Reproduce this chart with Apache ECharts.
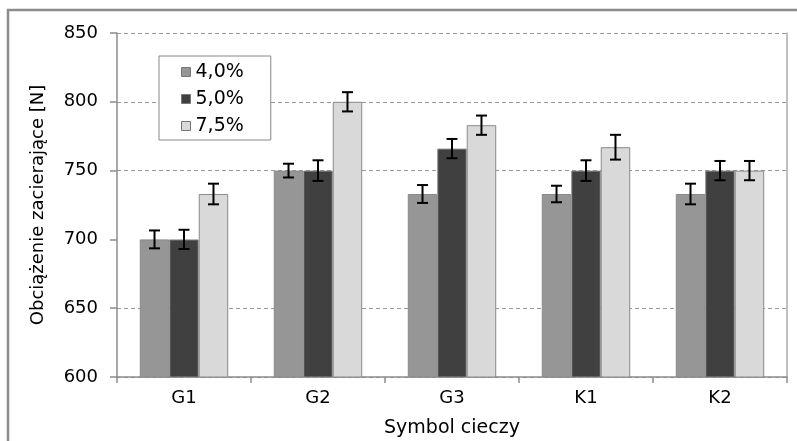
<!DOCTYPE html>
<html>
<head>
<meta charset="utf-8">
<script src="https://cdn.jsdelivr.net/npm/echarts@6/dist/echarts.min.js"></script>
<style>html,body{margin:0;padding:0;background:#fff}#c{width:797px;height:441px}</style>
</head>
<body>
<div id="c"></div>
<script>
const categories = ['G1', 'G2', 'G3', 'K1', 'K2'];
const seriesNames = ['4,0%', '5,0%', '7,5%'];
const values40 = [700, 750, 733, 733, 733];
const values50 = [700, 750, 766, 750, 750];
const values75 = [733, 800, 783, 767, 750];
const err40 = [6.5, 5, 6.5, 6, 7.5];
const err50 = [7, 7.5, 7, 7.5, 7];
const err75 = [7.5, 7, 7, 9, 7];
const yTicks = [600, 650, 700, 750, 800, 850];
const xTitle = 'Symbol cieczy';
const yTitle = 'Obciążenie zacierające [N]';

const colors = ['#969696', '#404040', '#d9d9d9'];
const valueSets = [values40, values50, values75];
const errSets = [err40, err50, err75];
const FONT = 'DejaVu Sans';

const errData = [];
valueSets.forEach((vals, s) => {
  vals.forEach((v, i) => errData.push([i, v, errSets[s][i], s]));
});

const chart = echarts.init(document.getElementById('c'), null, {renderer: 'canvas'});
const option = {
  animation: false,
  backgroundColor: '#fff',
  textStyle: {fontFamily: FONT, color: '#000'},
  graphic: [{
    type: 'rect', silent: true, z: -1,
    shape: {x: 8, y: 10, width: 830, height: 470},
    style: {fill: 'none', stroke: '#8c8c8c', lineWidth: 2.5}
  }],
  grid: {left: 117, right: 10, top: 33, bottom: 64, outerBoundsMode: 'none', containLabel: false},
  legend: {
    orient: 'vertical', left: 159, top: 56,
    padding: [6, 27, 4, 22],
    itemGap: 7,
    itemWidth: 9, itemHeight: 9,
    icon: 'rect',
    borderColor: '#888', borderWidth: 1, backgroundColor: '#fff',
    textStyle: {fontFamily: FONT, fontSize: 19, color: '#000', lineHeight: 20},
    itemStyle: {borderColor: '#777', borderWidth: 1},
    data: seriesNames
  },
  xAxis: {
    type: 'category', data: categories,
    name: xTitle, nameLocation: 'middle', nameGap: 42,
    nameTextStyle: {fontFamily: FONT, fontSize: 19, color: '#000'},
    axisLine: {lineStyle: {color: '#8c8c8c', width: 1.5}},
    axisTick: {show: true, length: 6, lineStyle: {color: '#8c8c8c', width: 1.5}},
    axisLabel: {fontFamily: FONT, fontSize: 18, color: '#000', margin: 12}
  },
  yAxis: [{
    type: 'value', min: yTicks[0], max: yTicks[yTicks.length - 1], interval: 50,
    name: yTitle, nameLocation: 'middle', nameGap: 70,
    nameTextStyle: {fontFamily: FONT, fontSize: 18, color: '#000'},
    axisLine: {show: true, lineStyle: {color: '#8c8c8c', width: 1.5}},
    axisTick: {show: true, length: 7, lineStyle: {color: '#8c8c8c', width: 1.5}},
    axisLabel: {fontFamily: FONT, fontSize: 18, color: '#000', margin: 19},
    splitLine: {show: true, lineStyle: {type: [4, 3], width: 1,
      color: ['#999', '#999', 'rgba(0,0,0,0)', '#999', '#999', '#999']}}
  }, {
    type: 'value', position: 'right', min: yTicks[0], max: yTicks[yTicks.length - 1], interval: 50,
    axisLine: {show: true, lineStyle: {color: '#aaa', width: 1.5}},
    axisTick: {show: false}, axisLabel: {show: false}, splitLine: {show: false}
  }],
  series: [
    ...valueSets.map((vals, s) => ({
      name: seriesNames[s], type: 'bar', data: vals,
      barGap: '0%', barCategoryGap: '34%',
      itemStyle: {color: colors[s], borderColor: '#8a8a8a', borderWidth: 1}
    })),
    {
      type: 'custom', name: 'err', data: errData, z: 10,
      encode: {x: 0, y: 1},
      renderItem: function (params, api) {
        const cat = api.value(0), v = api.value(1), e = api.value(2), s = api.value(3);
        const catW = api.size([1, 0])[0];
        const bw = catW * 0.22;
        const x = api.coord([cat, v])[0] + (s - 1) * bw;
        const yt = api.coord([cat, v + e])[1];
        const yb = api.coord([cat, v - e])[1];
        const hw = 5.5;
        const st = {stroke: '#000', lineWidth: 2};
        return {type: 'group', children: [
          {type: 'line', shape: {x1: x, y1: yt, x2: x, y2: yb}, style: st},
          {type: 'line', shape: {x1: x - hw, y1: yt, x2: x + hw, y2: yt}, style: st},
          {type: 'line', shape: {x1: x - hw, y1: yb, x2: x + hw, y2: yb}, style: st}
        ]};
      }
    }
  ]
};
chart.setOption(option);
</script>
</body>
</html>
